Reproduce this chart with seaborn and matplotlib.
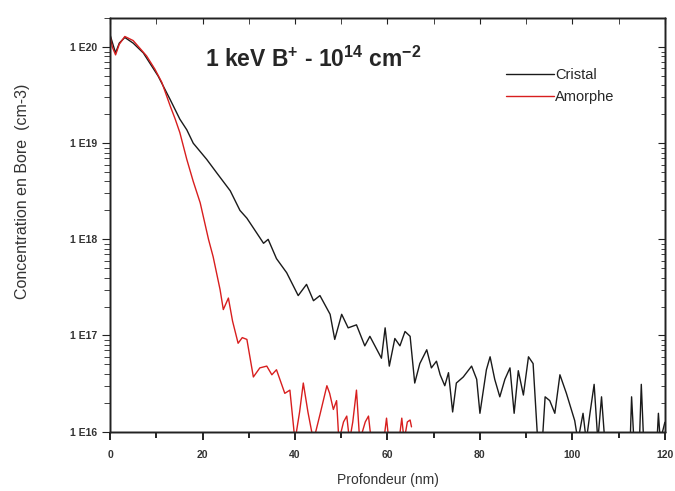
import seaborn as sns
import matplotlib.pyplot as plt
import pandas as pd

# Profils SIMS : bore 1 keV, 1E14 cm-2
depth_cristal = [0, 0.5, 1.2, 2, 3.2, 5, 7.2, 10.4, 13, 15.1, 16.6, 18, 20.9, 23.1, 26,
                 28.1, 29.6, 31.7, 33.2, 34.2, 36, 38.2, 40.7, 42.5, 44, 45.4, 47.6, 48.6,
                 50.1, 51.5, 53.3, 55.1, 56.2, 58.7, 59.5, 60.4, 61.6, 62.7, 63.8, 64.9,
                 65.9, 67, 68.5, 69.5, 70.6, 71.4, 72.4, 73.2, 74.1, 74.9, 76.4, 78.2,
                 79.3, 80, 81.4, 82.2, 83.2, 84.3, 85.4, 86.5, 87.4, 88.3, 89.4, 90.5,
                 91.5, 92.5, 93.5, 94.1, 95.1, 96.2, 97.3, 98.7, 100.5, 101.2, 102.3, 103,
                 103.8, 104.7, 105.5, 106.3, 107, 112.5, 112.8, 113.3, 114.5, 114.9, 115.4,
                 118.3, 118.6, 119, 120]
conc_cristal = [1.35e20, 1.12e20, 8.7e19, 1.10e20, 1.26e20, 1.10e20, 8.7e19, 5.0e19, 2.85e19,
                1.78e19, 1.38e19, 1.0e19, 6.8e18, 4.9e18, 3.2e18, 2.0e18, 1.66e18, 1.17e18,
                9.1e17, 1.0e18, 6.3e17, 4.5e17, 2.6e17, 3.4e17, 2.3e17, 2.6e17, 1.66e17,
                9.1e16, 1.66e17, 1.2e17, 1.29e17, 7.8e16, 9.8e16, 5.8e16, 1.2e17, 4.8e16,
                9.3e16, 7.8e16, 1.1e17, 9.8e16, 3.2e16, 5.1e16, 7.1e16, 4.6e16, 5.4e16,
                3.9e16, 3.0e16, 4.1e16, 1.6e16, 3.2e16, 3.7e16, 4.8e16, 3.5e16, 1.55e16,
                4.4e16, 6.0e16, 3.5e16, 2.3e16, 3.5e16, 4.6e16, 1.55e16, 4.3e16, 2.4e16,
                6.0e16, 5.1e16, 8e15, 8e15, 2.3e16, 2.1e16, 1.55e16, 3.9e16, 2.5e16, 1.3e16,
                8e15, 1.55e16, 8e15, 1.55e16, 3.1e16, 8e15, 2.3e16, 8e15, 8e15, 2.3e16, 8e15,
                8e15, 3.1e16, 8e15, 8e15, 1.55e16, 8e15, 1.25e16]

depth_amorphe = [0, 0.5, 1.2, 2, 3.2, 5, 7.9, 9.7, 11.2, 13, 14.1, 15.1, 16.6, 18, 19.5,
                 21.3, 22.3, 23.8, 24.5, 25.6, 26.5, 27.7, 28.6, 29.6, 31, 32.4, 33.9, 35,
                 36, 37.8, 38.9, 40, 41, 41.8, 42.8, 44, 45.4, 46.9, 47.5, 48.3, 49, 49.5,
                 50.5, 51.2, 51.8, 52.5, 53.3, 54, 55.2, 55.9, 56.5, 59.2, 59.8, 60.3, 62.5,
                 63.1, 63.6, 64.3, 64.9, 65.2]
conc_amorphe = [1.32e20, 1.0e20, 8.3e19, 1.07e20, 1.29e20, 1.17e20, 8.1e19, 5.9e19, 4.3e19,
                2.45e19, 1.78e19, 1.29e19, 6.8e18, 4.0e18, 2.4e18, 1.0e18, 6.6e17, 3.0e17,
                1.86e17, 2.45e17, 1.41e17, 8.3e16, 9.5e16, 9.1e16, 3.7e16, 4.6e16, 4.8e16,
                3.9e16, 4.4e16, 2.5e16, 2.7e16, 8e15, 1.6e16, 3.2e16, 1.6e16, 8e15, 1.5e16,
                3.0e16, 2.5e16, 1.7e16, 2.1e16, 8e15, 1.26e16, 1.45e16, 8e15, 1.26e16, 2.7e16,
                8e15, 1.26e16, 1.45e16, 8e15, 8e15, 1.38e16, 8e15, 8e15, 1.38e16, 8e15,
                1.26e16, 1.32e16, 1.12e16]

series_names = ["Cristal", "Amorphe"]
series_colors = ["#1a1a1a", "#d81e1e"]

ytick_vals = [1e16, 1e17, 1e18, 1e19, 1e20]
ytick_labels = ["1 E16", "1 E17", "1 E18", "1 E19", "1 E20"]
xtick_vals = [0, 20, 40, 60, 80, 100, 120]
xminor_vals = [10, 30, 50, 70, 90, 110]

df = pd.concat([
    pd.DataFrame({"depth": depth_cristal, "conc": conc_cristal, "serie": "Cristal"}),
    pd.DataFrame({"depth": depth_amorphe, "conc": conc_amorphe, "serie": "Amorphe"}),
])

sns.set_style("ticks")
plt.rcParams["font.family"] = ["Liberation Sans", "DejaVu Sans"]
plt.rcParams["mathtext.fontset"] = "custom"
plt.rcParams["mathtext.rm"] = "Liberation Sans:bold"
plt.rcParams["mathtext.default"] = "rm"

fig = plt.figure(figsize=(6.75, 4.91), dpi=100)
ax = fig.add_axes([0.163, 0.121, 0.822, 0.842])

sns.lineplot(data=df, x="depth", y="conc", hue="serie", hue_order=series_names,
             palette=series_colors, estimator=None, sort=False, linewidth=1.0, ax=ax)

ax.set_yscale("log")
ax.set_ylim(1e16, 2.0e20)
ax.set_xlim(0, 120)

# mirror axes: ticks on the top and right edges, pointing inwards
ax_top = ax.twiny()
ax_top.set_xlim(0, 120)
ax_top.set_xticks(xtick_vals)
ax_top.set_xticks(xminor_vals, minor=True)
ax_top.tick_params(which="both", direction="in", labeltop=False, length=4,
                   color="#222222")
ax_right = ax.twinx()
ax_right.set_yscale("log")
ax_right.set_ylim(1e16, 2.0e20)
ax_right.set_yticks(ytick_vals)
ax_right.tick_params(which="both", direction="in", labelright=False, color="#222222")
ax_right.tick_params(which="major", length=5)
ax_right.tick_params(which="minor", length=3)

ax.set_yticks(ytick_vals)
ax.set_yticklabels(ytick_labels)
ax.set_xticks(xtick_vals)
ax.set_xticks(xminor_vals, minor=True)
ax.tick_params(which="both", direction="out", colors="#222222", labelsize=7.5,
               bottom=True, left=True)
ax.tick_params(which="major", length=6)
ax.tick_params(which="minor", length=4)
ax.tick_params(axis="x", which="both", width=1.4, pad=7)
for lab in ax.get_xticklabels() + ax.get_yticklabels():
    lab.set_fontweight("bold")
    lab.set_color("#333333")

for a in (ax, ax_top, ax_right):
    for s in a.spines.values():
        s.set_linewidth(1.0)
        s.set_color("#222222")

ax.set_xlabel("Profondeur (nm)", fontsize=10, color="#333333")
ax.xaxis.set_label_coords(0.5, -0.1)
ax.set_ylabel("Concentration en Bore  (cm-3)", fontsize=11.5, color="#333333")
ax.yaxis.set_label_coords(-0.145, 0.58)

ax.text(0.171, 0.90, "1 keV B$^{+}$ - 10$^{14}$ cm$^{-2}$", transform=ax.transAxes,
        fontsize=16.5, fontweight="bold", va="center", ha="left")

ax.legend(loc="upper left", bbox_to_anchor=(0.69, 0.912), frameon=False,
          handlelength=3.3, handletextpad=0.05, labelspacing=0.55, fontsize=10.5)

fig.savefig("out.png", dpi=100)
